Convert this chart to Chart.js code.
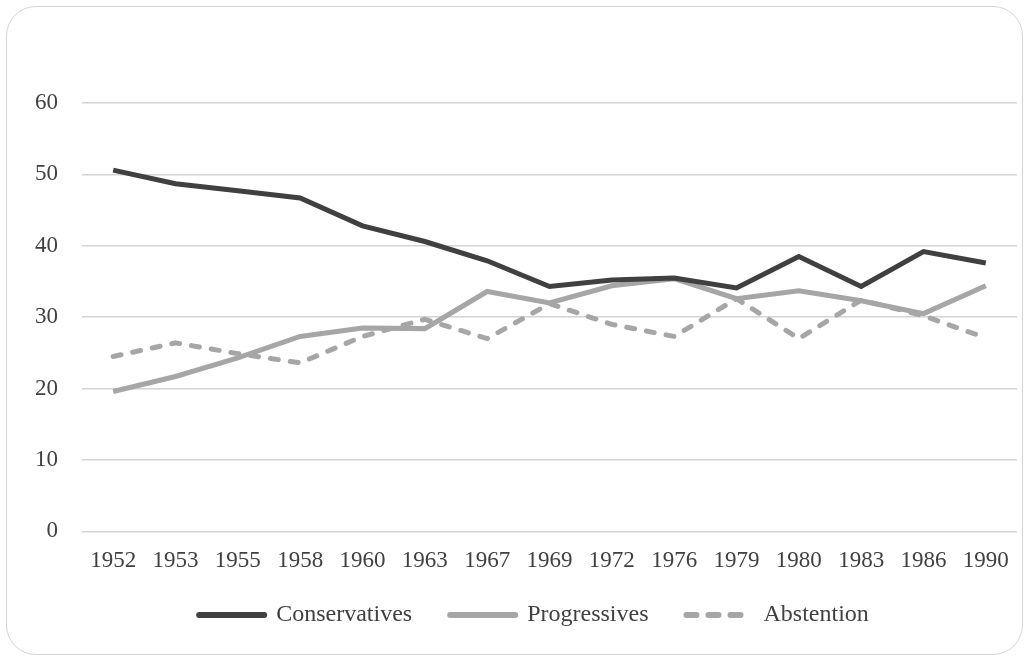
<!DOCTYPE html>
<html>
<head>
<meta charset="utf-8">
<script src="https://cdn.jsdelivr.net/npm/chart.js@4"></script>
<style>
  html, body { margin: 0; padding: 0; background: #fff; }
  #box {
    position: absolute; left: 6px; top: 6px; width: 1015px; height: 647px;
    border: 1.5px solid #d4d4d4; border-radius: 30px; overflow: hidden;
  }
</style>
</head>
<body>
<div id="box"><canvas id="lineChart"></canvas></div>
<script>
var years = ['1952','1953','1955','1958','1960','1963','1967','1969','1972','1976','1979','1980','1983','1986','1990'];
var conservatives = [50.6, 48.7, 47.7, 46.7, 42.8, 40.6, 37.9, 34.3, 35.2, 35.5, 34.1, 38.5, 34.3, 39.2, 37.6];
var progressives = [19.6, 21.7, 24.3, 27.3, 28.5, 28.4, 33.6, 32.0, 34.4, 35.4, 32.6, 33.7, 32.3, 30.5, 34.4];
var abstention = [24.5, 26.4, 24.9, 23.6, 27.3, 29.7, 27.0, 31.9, 29.0, 27.3, 32.6, 27.0, 32.4, 30.2, 27.1];

var fontFamily = '"Liberation Serif", "DejaVu Serif", serif';
Chart.defaults.font.family = fontFamily;
Chart.defaults.color = '#404040';

// legend dashes are shorter than the ones on the chart
var legendDash = [[], [], [10, 12]];

// the legend in the original sits a bit right of centre
var legendShift = {
  id: 'legendShift',
  afterLayout: function(chart) {
    if (chart.legend) chart.legend.left += 40;
  }
};

var ctx = document.getElementById('lineChart').getContext('2d');
var chart = new Chart(ctx, {
  type: 'line',
  data: {
    labels: years,
    datasets: [{
      label: 'Conservatives',
      data: conservatives,
      borderColor: '#404040',
      backgroundColor: '#404040',
      borderWidth: 5,
      pointRadius: 0,
      tension: 0
    }, {
      label: 'Progressives',
      data: progressives,
      borderColor: '#a6a6a6',
      backgroundColor: '#a6a6a6',
      borderWidth: 5,
      pointRadius: 0,
      tension: 0
    }, {
      label: 'Abstention',
      data: abstention,
      borderColor: '#a6a6a6',
      backgroundColor: '#a6a6a6',
      borderWidth: 5,
      borderDash: [8, 12],
      borderCapStyle: 'round',
      pointRadius: 0,
      tension: 0
    }]
  },
  options: {
    responsive: true,
    maintainAspectRatio: false,
    animation: false,
    layout: { padding: { top: 96, left: 4, right: 5, bottom: 17 } },
    plugins: {
      tooltip: { enabled: false },
      legend: {
        position: 'bottom',
        labels: {
          usePointStyle: true,
          pointStyle: 'line',
          pointStyleWidth: 65,
          boxHeight: 6,
          padding: 20,
          font: { size: 24 },
          color: '#404040',
          generateLabels: function(chart) {
            var items = Chart.defaults.plugins.legend.labels.generateLabels(chart);
            items.forEach(function(it, i) {
              it.lineDash = legendDash[it.datasetIndex];
              it.lineCap = 'round';
              it.lineWidth = 6;
              // extra room after the text, like the spacing between the items in the original
              if (i < items.length - 1) it.text = it.text + '\u00a0\u00a0\u00a0';
            });
            return items;
          }
        }
      }
    },
    scales: {
      x: {
        offset: true,
        grid: { display: false },
        border: { display: false },
        ticks: { font: { size: 23 }, color: '#404040', maxRotation: 0, autoSkip: false, padding: 8 }
      },
      y: {
        min: 0,
        max: 60,
        ticks: { stepSize: 10, font: { size: 23 }, color: '#404040', padding: 24 },
        grid: { color: '#d4d4d4', lineWidth: 1.5, drawTicks: false },
        border: { display: false }
      }
    }
  },
  plugins: [legendShift]
});
</script>
</body>
</html>
